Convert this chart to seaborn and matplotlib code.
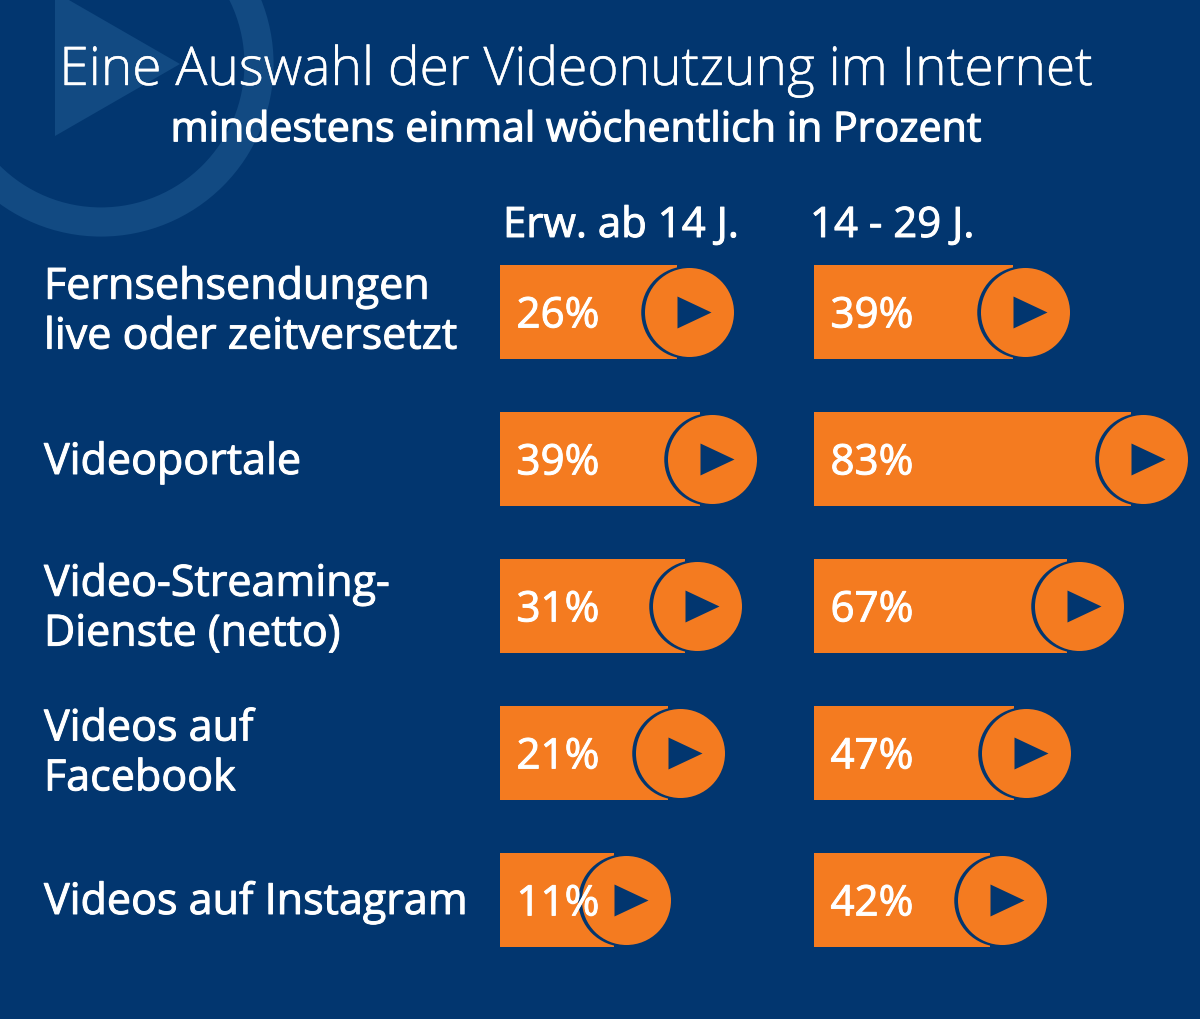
import pandas as pd
import seaborn as sns
import matplotlib.pyplot as plt
import matplotlib.patheffects as pe
from matplotlib.patches import Circle, Polygon
from matplotlib.transforms import ScaledTranslation

categories = ['Fernsehsendungen\nlive oder zeitversetzt', 'Videoportale',
              'Video-Streaming-\nDienste (netto)', 'Videos auf\nFacebook', 'Videos auf Instagram']
columns = ['Erw. ab 14 J.', '14 - 29 J.']

# the printed percentages
adults_pct = [26, 39, 31, 21, 11]
young_pct = [39, 83, 67, 47, 42]

# bar lengths as they are drawn in the graphic, it is not to scale with the percentages
adults_drawn = [177, 200, 185, 168, 114]
young_drawn = [199, 317, 253, 200, 176]

BG = '#02366f'
BG_LIGHT = '#124a82'
ORANGE = '#f47b20'
W, H = 1200, 1019

sns.set_theme(style='white')
plt.rcParams['font.family'] = ['Open Sans', 'DejaVu Sans']

fig = plt.figure(figsize=(W / 100, H / 100), dpi=100, facecolor=BG)

# no medium weight in the font, a thin white outline gets close to it
medium = [pe.withStroke(linewidth=0.7, foreground='white')]


def px_axes(left, top, right, bottom):
    return fig.add_axes([left / W, 1 - bottom / H, (right - left) / W, (bottom - top) / H])


# background play icon and the headings
bg = px_axes(0, 0, W, H)
bg.set_xlim(0, W)
bg.set_ylim(H, 0)
bg.axis('off')
bg.add_patch(Circle((101, 64), 158, fill=False, ec=BG_LIGHT, lw=21))
bg.add_patch(Polygon([(55, -8), (180, 64), (55, 136)], fc=BG_LIGHT, ec='none'))
bg.text(576, 71, 'Eine Auswahl der Videonutzung im Internet', color='white', fontsize=38.4,
        fontweight='light', ha='center', va='center',
        path_effects=[pe.withStroke(linewidth=0.3, foreground='white')])
bg.text(576, 131, 'mindestens einmal wöchentlich in Prozent', color='white', fontsize=29.6,
        ha='center', va='center', path_effects=[pe.withStroke(linewidth=0.9, foreground='white')])

df = pd.DataFrame({'category': categories, 'adults': adults_drawn, 'young': young_drawn,
                   'adults_pct': adults_pct, 'young_pct': young_pct})

panels = [('adults', 'adults_pct', 500, columns[0], 3), ('young', 'young_pct', 814, columns[1], -4)]

for col, pct, left, header, header_dx in panels:
    ax = px_axes(left, 238.5, W, 973.5)
    ax.set_facecolor('none')
    sns.barplot(data=df, x=col, y='category', color=ORANGE, width=0.64, saturation=1, linewidth=0, ax=ax)
    ax.set_xlim(0, W - left)
    ax.set_ylim(4.5, -0.5)
    ax.set_xlabel('')
    ax.set_ylabel('')
    ax.set_xticks([])
    sns.despine(ax=ax, left=True, bottom=True)

    ypos = list(range(len(df)))
    # dark crescent, orange disc and the play triangle at the end of each bar
    ax.scatter(df[col] + 10, ypos, s=(92.5 * 0.72) ** 2, color=BG, linewidths=0, zorder=3, clip_on=False)
    ax.scatter(df[col] + 12, ypos, s=(89 * 0.72) ** 2, color=ORANGE, linewidths=0, zorder=4, clip_on=False)
    ax.scatter(df[col] + 17, ypos, s=(34 * 0.72) ** 2, color=BG, linewidths=0, zorder=5, clip_on=False,
               marker=[(-0.5, -0.47), (0.5, 0), (-0.5, 0.47)])

    for i, v in enumerate(df[pct]):
        ax.text(16.5, i + 0.03, f'{v}%', color='white', fontsize=30.3, ha='left', va='center', zorder=6,
                path_effects=medium)

    if col == 'adults':
        ax.tick_params(axis='y', length=0, pad=456 * 0.72, colors='white')
        # labels sit a little above the bar centres, by a different amount per row
        nudges = [8, 2, 5, 7, 3]
        for lab, dy in zip(ax.get_yticklabels(), nudges):
            lab.set_ha('left')
            lab.set_fontsize(31)
            lab.set_linespacing(1.16)
            lab.set_path_effects(medium)
            lab.set_transform(lab.get_transform() + ScaledTranslation(0, dy / 100, fig.dpi_scale_trans))
    else:
        ax.set_yticks([])

    bg.text(left + header_dx, 226, header, color='white', fontsize=30.2, ha='left', va='center',
            path_effects=medium)

fig.savefig('out.png', dpi=100, facecolor=BG)
